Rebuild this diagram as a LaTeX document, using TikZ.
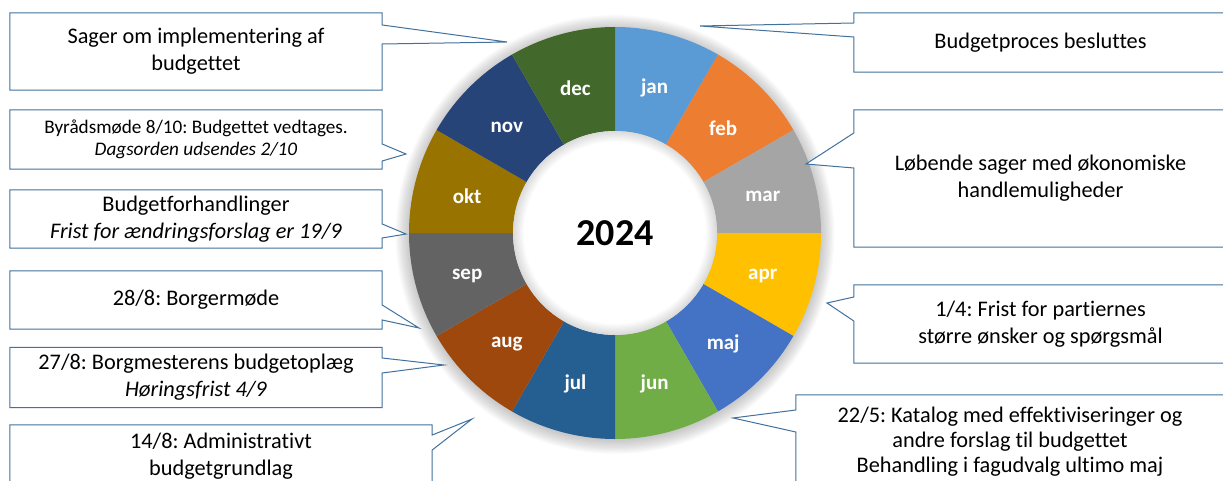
\documentclass[tikz,border=0pt]{standalone}
\usepackage{fontspec}
\setmainfont{Carlito}[Ligatures=NoCommon]
\frenchspacing
\definecolor{cjan}{HTML}{5B9BD5}
\definecolor{cfeb}{HTML}{ED7D31}
\definecolor{cmar}{HTML}{A5A5A5}
\definecolor{capr}{HTML}{FFC000}
\definecolor{cmaj}{HTML}{4472C4}
\definecolor{cjun}{HTML}{70AD47}
\definecolor{cjul}{HTML}{255E91}
\definecolor{caug}{HTML}{9E480E}
\definecolor{csep}{HTML}{636363}
\definecolor{cokt}{HTML}{997300}
\definecolor{cnov}{HTML}{264478}
\definecolor{cdec}{HTML}{43682B}
\definecolor{edgeblue}{HTML}{41719C}
\begin{document}
\begin{tikzpicture}[x=1pt,y=-1pt,
  callout/.style={draw=edgeblue, line width=1pt, line join=miter, fill=white},
  box/.style={inner sep=0pt, align=center, font=\fontsize{22.3}{27}\selectfont},
  smallbox/.style={inner sep=0pt, align=center, font=\fontsize{19.2}{22.5}\selectfont},
  month/.style={text=white, font=\fontsize{21}{24}\selectfont\bfseries, yshift=-3pt},
  year/.style={text=black, font=\fontsize{38}{44}\selectfont\bfseries}]
\useasboundingbox (0,0) rectangle (1223,481);
\clip (0,0) rectangle (1223,481);

% ---- donut ----
\begin{scope}[shift={(615,233)}]
  \foreach \k in {1,...,12}
    \fill[black, opacity=0.018] (0,1.5) circle[radius=205+\k*1.2];
  \foreach \m/\c [count=\i from 0] in {jan/cjan,feb/cfeb,mar/cmar,apr/capr,maj/cmaj,jun/cjun,jul/cjul,aug/caug,sep/csep,okt/cokt,nov/cnov,dec/cdec} {
    \pgfmathsetmacro\sa{-(90-30*\i)}
    \pgfmathsetmacro\ea{-(60-30*\i)}
    \pgfmathsetmacro\ma{-(75-30*\i)}
    \fill[\c] (\sa:206) arc[start angle=\sa, end angle=\ea, radius=206]
      -- (\ea:102) arc[start angle=\ea, end angle=\sa, radius=102] -- cycle;
    \node[month] (m\m) at (\ma:153) {\m};
  }
  \fill[white] (0,0) circle[radius=102];
  \begin{scope}
    \clip (0,0) circle[radius=102];
    \foreach \k in {1,...,9}
      \draw[black, opacity=0.016, line width=\k*2.4pt] (0,0) circle[radius=102];
  \end{scope}
  \node[year] (yr) at (0,0) {2024};
\end{scope}

% ---- left callouts ----
\coordinate (t1) at (507,42);
\node[box, minimum width=372pt, minimum height=77pt] (b1) at (196,51.5)
  {Sager om implementering af\\budgettet};
\draw[callout] (b1.north west) -| (b1.east |- 0,25) -- (t1) -- (b1.east |- 0,44) |- (b1.south west) -- cycle;
\node[box, minimum width=372pt, minimum height=77pt] at (196,51.5)
  {Sager om implementering af\\budgettet};

\coordinate (t2) at (406,154);
\node[smallbox, minimum width=372pt, minimum height=59pt] (b2) at (196,139.5)
  {Byrådsmøde 8/10: Budgettet vedtages.\\\textit{Dagsorden udsendes 2/10}};
\draw[callout] (b2.north west) -| (b2.east |- 0,144) -- (t2) -- (b2.east |- 0,161) |- (b2.south west) -- cycle;
\node[smallbox, minimum width=372pt, minimum height=59pt] at (196,139.5)
  {Byrådsmøde 8/10: Budgettet vedtages.\\\textit{Dagsorden udsendes 2/10}};

\coordinate (t3) at (406,234);
\node[box, minimum width=372pt, minimum height=58pt] (b3) at (196,219)
  {Budgetforhandlinger\\\textit{Frist for ændringsforslag er 19/9}};
\draw[callout] (b3.north west) -| (b3.east |- 0,224) -- (t3) -- (b3.east |- 0,238) |- (b3.south west) -- cycle;
\node[box, minimum width=372pt, minimum height=58pt] at (196,219)
  {Budgetforhandlinger\\\textit{Frist for ændringsforslag er 19/9}};

\coordinate (t4) at (419,328);
\node[box, minimum width=372pt, minimum height=58pt] (b4) at (196,300)
  {28/8: Borgermøde};
\draw[callout] (b4.north west) -| (b4.east |- 0,305) -- (t4) -- (b4.east |- 0,320) |- (b4.south west) -- cycle;
\node[box, minimum width=372pt, minimum height=58pt] at (196,300)
  {28/8: Borgermøde};

\coordinate (t5) at (444,365);
\node[box, minimum width=372pt, minimum height=60pt] (b5) at (196,377.5)
  {27/8: Borgmesterens budgetoplæg\\\textit{Høringsfrist 4/9}};
\draw[callout] (b5.north west) -| (b5.east |- 0,358) -- (t5) -- (b5.east |- 0,373) |- (b5.south west) -- cycle;
\node[box, minimum width=372pt, minimum height=60pt] at (196,377.5)
  {27/8: Borgmesterens budgetoplæg\\\textit{Høringsfrist 4/9}};

\coordinate (t6) at (472,419);
\node[box, minimum width=422pt, minimum height=62pt] (b6) at (221,456)
  {14/8: Administrativt\\budgetgrundlag};
\draw[callout] (b6.north west) -| (b6.east |- 0,435) -- (t6) -- (b6.east |- 0,450) |- (b6.south west) -- cycle;
\node[box, minimum width=422pt, minimum height=62pt] at (221,456)
  {14/8: Administrativt\\budgetgrundlag};

% ---- right callouts ----
\coordinate (tA) at (700,26);
\node[box, minimum width=373pt, minimum height=59pt] (bA) at (1040.5,42.5)
  {Budgetproces besluttes};
\draw[callout] (bA.north east) -| (bA.west |- 0,23) -- (tA) -- (bA.west |- 0,37) |- (bA.south east) -- cycle;
\node[box, minimum width=373pt, minimum height=59pt] at (1040.5,42.5)
  {Budgetproces besluttes};

\coordinate (tB) at (806,164);
\node[box, minimum width=373pt, minimum height=137pt] (bB) at (1040.5,178.5)
  {Løbende sager med økonomiske\\handlemuligheder};
\draw[callout] (bB.north east) -| (bB.west |- 0,133) -- (tB) -- (bB.west |- 0,168) |- (bB.south east) -- cycle;
\node[box, minimum width=373pt, minimum height=137pt] at (1040.5,178.5)
  {Løbende sager med økonomiske\\handlemuligheder};

\coordinate (tC) at (827,303);
\node[box, minimum width=373pt, minimum height=78pt] (bC) at (1040.5,324)
  {1/4: Frist for partiernes\\større ønsker og spørgsmål};
\draw[callout] (bC.north east) -| (bC.west |- 0,297) -- (tC) -- (bC.west |- 0,321) |- (bC.south east) -- cycle;
\node[box, minimum width=373pt, minimum height=78pt] at (1040.5,324)
  {1/4: Frist for partiernes\\større ønsker og spørgsmål};

\coordinate (tD) at (733,418);
\node[box, minimum width=428pt, minimum height=94pt, font=\fontsize{22.3}{25}\selectfont] (bD) at (1010,442)
  {22/5: Katalog med effektiviseringer og\\andre forslag til budgettet\\Behandling i fagudvalg ultimo maj};
\draw[callout] (bD.north east) -| (bD.west |- 0,410) -- (tD) -- (bD.west |- 0,432) |- (bD.south east) -- cycle;
\node[box, minimum width=428pt, minimum height=94pt, font=\fontsize{22.3}{25}\selectfont] at (1010,442)
  {22/5: Katalog med effektiviseringer og\\andre forslag til budgettet\\Behandling i fagudvalg ultimo maj};
\end{tikzpicture}
\end{document}
